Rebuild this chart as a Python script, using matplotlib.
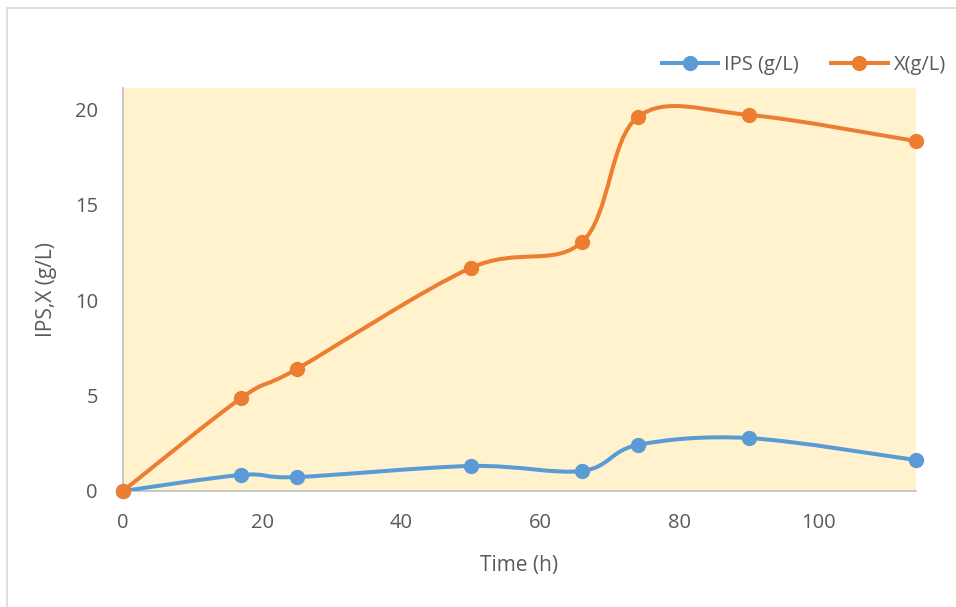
import numpy as np
import matplotlib.pyplot as plt
from matplotlib.path import Path
from matplotlib.patches import PathPatch, Rectangle
from matplotlib.lines import Line2D

# data
time_h = [0, 17, 25, 50, 66, 74, 90, 114]
ips = [0, 0.84, 0.73, 1.31, 1.05, 2.41, 2.77, 1.62]
biomass = [0, 4.87, 6.39, 11.68, 13.04, 19.58, 19.69, 18.32]

BLUE = '#5B9BD5'
ORANGE = '#ED7D31'
TXT = '#595959'

plt.rcParams['font.family'] = ['Open Sans', 'DejaVu Sans']


def smooth_path(x, y):
    """Excel-like smoothed line: cubic bezier segments through the points"""
    pts = np.column_stack([x, y]).astype(float)
    verts = [pts[0]]
    codes = [Path.MOVETO]
    n = len(pts)
    for i in range(n - 1):
        p0 = pts[i - 1] if i > 0 else pts[i]
        p1 = pts[i]
        p2 = pts[i + 1]
        p3 = pts[i + 2] if i + 2 < n else pts[i + 1]
        c1 = p1 + (p2 - p0) / 6.0
        c2 = p2 - (p3 - p1) / 6.0
        verts += [c1, c2, p2]
        codes += [Path.CURVE4] * 3
    return Path(verts, codes)


fig = plt.figure(figsize=(9.56, 6.07), dpi=100)
fig.patches.append(Rectangle((7 / 956, -0.1), 1.2, (607 - 8) / 607 + 0.1,
                             transform=fig.transFigure, fill=False,
                             edgecolor='#D9D9D9', linewidth=1.2))
ax = fig.add_axes([123 / 956, 116 / 607, 793 / 956, 403 / 607])
ax.set_facecolor('#FFF2CC')

for y, col, lab in [(ips, BLUE, 'IPS (g/L)'), (biomass, ORANGE, 'X(g/L)')]:
    ax.add_patch(PathPatch(smooth_path(time_h, y), fill=False,
                           edgecolor=col, linewidth=2.9, capstyle='round',
                           zorder=3))
    ax.plot(time_h, y, linestyle='none', marker='o', markersize=10,
            color=col, zorder=4, clip_on=False)

ax.set_xlim(0, 114)
ax.set_ylim(0, 21.1)
ax.set_xticks([0, 20, 40, 60, 80, 100])
ax.set_yticks([0, 5, 10, 15, 20])
ax.tick_params(length=0, labelsize=14.5, labelcolor=TXT)
ax.tick_params(axis='x', pad=16)
ax.tick_params(axis='y', pad=18)
for s in ['top', 'right']:
    ax.spines[s].set_visible(False)
for s in ['left', 'bottom']:
    ax.spines[s].set_color('#BFBFBF')
    ax.spines[s].set_linewidth(1.2)

ax.set_xlabel('Time (h)', fontsize=15, color=TXT, labelpad=16)
ax.set_ylabel('IPS,X (g/L)', fontsize=15, color=TXT, labelpad=13)

handles = [Line2D([], [], color=BLUE, lw=2.9, marker='o', markersize=10),
           Line2D([], [], color=ORANGE, lw=2.9, marker='o', markersize=10)]
fig.legend(handles, ['IPS (g/L)', 'X(g/L)'], loc='center right',
           bbox_to_anchor=(1.0, 1 - 65 / 607), ncol=2, frameon=False,
           fontsize=14.5, labelcolor=TXT, handlelength=2.8, handletextpad=0.3,
           columnspacing=1.6, borderaxespad=0.1)

fig.savefig('out.png', dpi=100)
